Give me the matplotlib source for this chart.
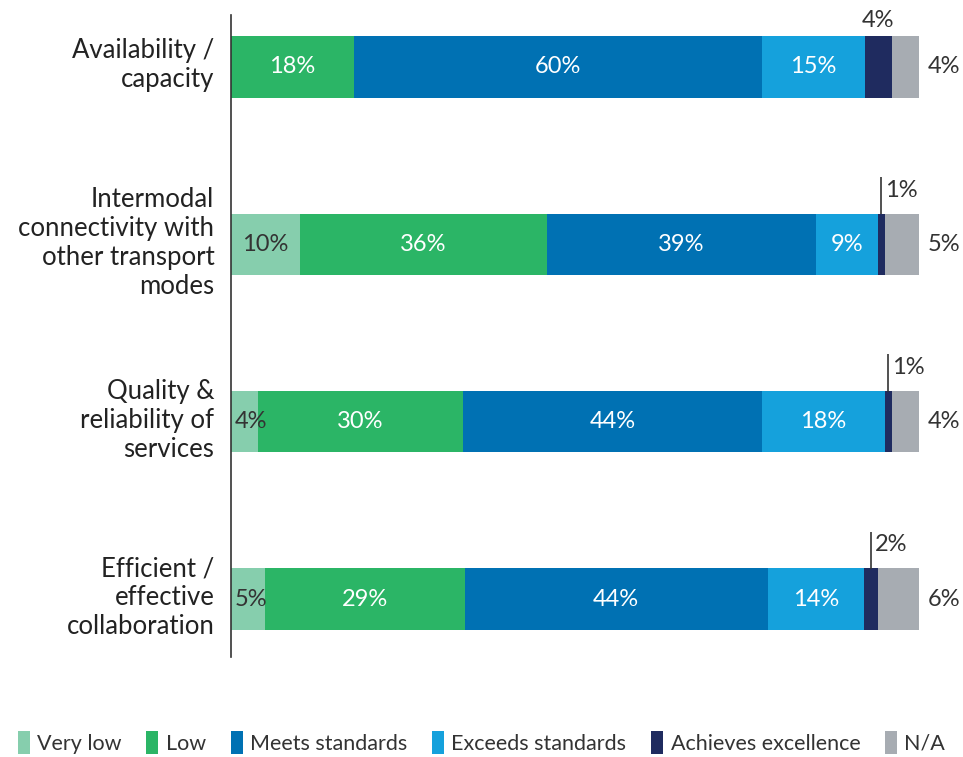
import matplotlib.pyplot as plt
import matplotlib.transforms as mtransforms
import numpy as np

plt.rcParams['font.family'] = ['Lato', 'DejaVu Sans']

categories = ["Availability /\ncapacity",
              "Intermodal\nconnectivity with\nother transport\nmodes",
              "Quality &\nreliability of\nservices",
              "Efficient /\neffective\ncollaboration"]
series = ["Very low", "Low", "Meets standards", "Exceeds standards",
          "Achieves excellence", "N/A"]
very_low = [0, 10, 4, 5]
low = [18, 36, 30, 29]
meets = [60, 39, 44, 44]
exceeds = [15, 9, 18, 14]
excellence = [4, 1, 1, 2]
na = [4, 5, 4, 6]

colors = ["#86CEAD", "#2BB566", "#0071B3", "#15A1DC", "#1F2B5F", "#A7ACB2"]
text_colors = ["#333333", "white", "white", "white", None, None]

data = np.array([very_low, low, meets, exceeds, excellence, na], dtype=float)
totals = data.sum(axis=0)
widths = data / totals * 100  # bars drawn to a common full width

fig = plt.figure(figsize=(9.63, 7.57), dpi=100)
ax = fig.add_axes([231 / 963, 1 - 657 / 757, 732 / 963, 642 / 757])

fs = 17
y = np.arange(len(categories))
left = np.zeros(len(categories))
for i, name in enumerate(series):
    ax.barh(y, widths[i], left=left, height=0.345, color=colors[i],
            label=name, edgecolor='none')
    for j in range(len(categories)):
        v = int(data[i, j])
        if v == 0:
            continue
        cx = left[j] + widths[i, j] / 2
        if i == 0:
            cx = max(cx, 2.9)  # keep small labels clear of the axis line
        if i < 4:
            ax.text(cx, y[j], f"{v}%", ha='center', va='center',
                    color=text_colors[i], fontsize=fs)
        elif i == 4:
            if j == 0:
                ax.text(cx, y[j] - 0.2, f"{v}%", ha='center', va='bottom',
                        color="#333333", fontsize=fs)
            else:
                ax.plot([cx, cx], [y[j] - 0.17, y[j] - 0.38], color="#333333",
                        lw=1.2, solid_capstyle='butt')
                ax.text(cx + 0.6, y[j] - 0.305, f"{v}%", ha='left', va='center',
                        color="#333333", fontsize=fs)
        else:
            ax.text(103.6, y[j], f"{v}%", ha='center', va='center',
                    color="#333333", fontsize=fs)
    left += widths[i]

ax.set_xlim(0, 100 * 732 / 688)
ax.set_ylim(3.327, -0.293)
ax.set_yticks(y)
ax.set_yticklabels(categories, fontsize=18.5, color="#222222", linespacing=1.2,
                   ha='right')
ax.tick_params(axis='y', length=0, pad=12)
# nudge the category labels up a little
shift = mtransforms.ScaledTranslation(0, 6 / 100, fig.dpi_scale_trans)
for lab in ax.get_yticklabels():
    lab.set_transform(lab.get_transform() + shift)
ax.set_xticks([])
for s in ['top', 'right', 'bottom']:
    ax.spines[s].set_visible(False)
ax.spines['left'].set_color("#333333")
ax.spines['left'].set_linewidth(1.2)

fig.legend(loc='lower center', bbox_to_anchor=(0.5, -0.022), ncol=6,
           frameon=False, fontsize=15.5, handlelength=0.55, handleheight=1.3,
           handletextpad=0.35, columnspacing=1.15, labelcolor="#333333")

fig.savefig("out.png", dpi=100)
